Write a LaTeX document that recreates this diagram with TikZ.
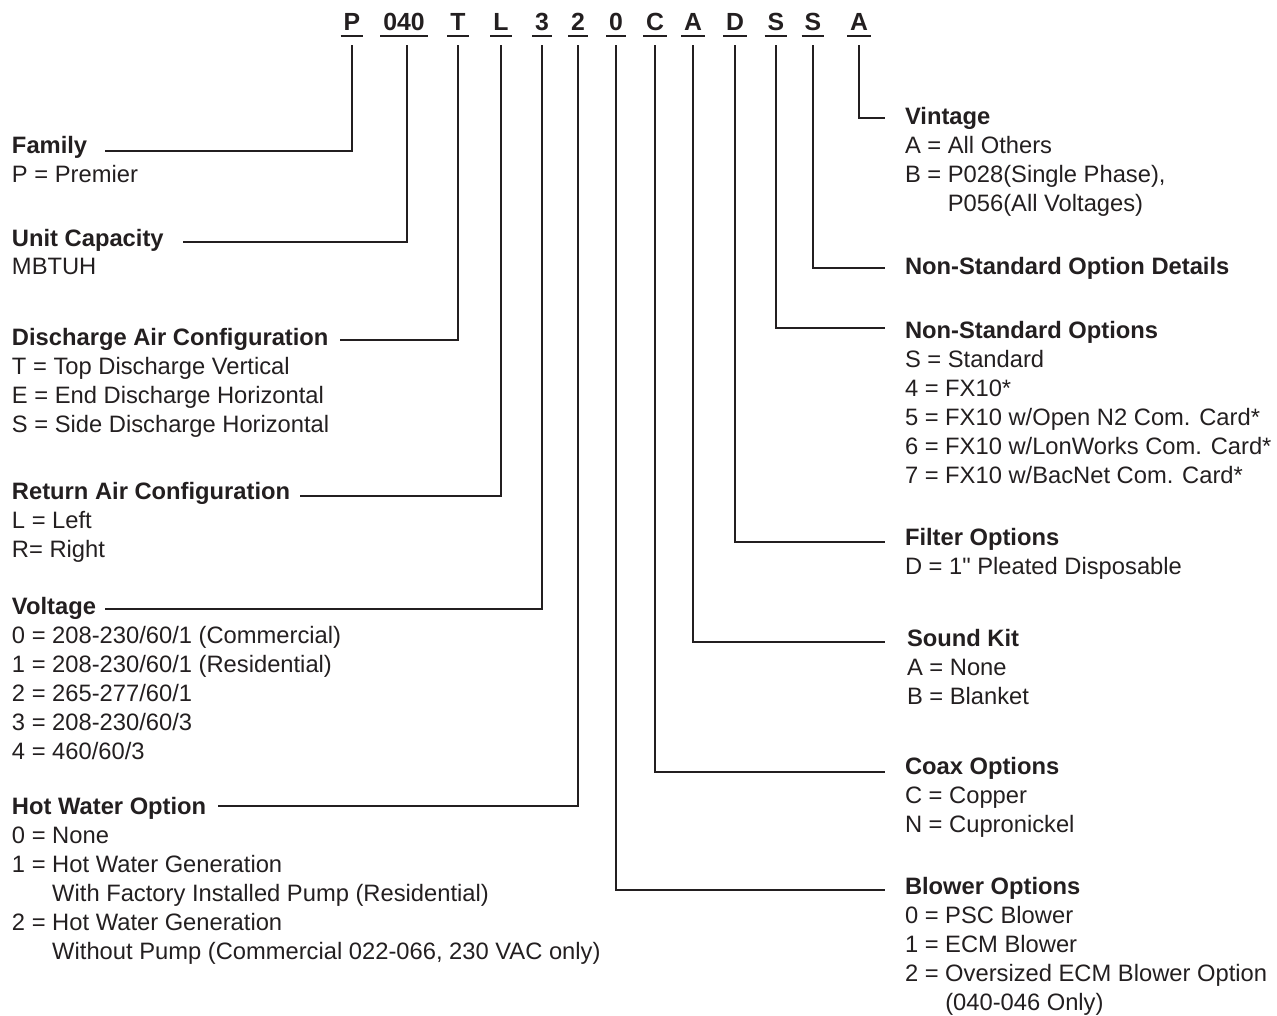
\documentclass[tikz,border=0pt]{standalone}
\usepackage{fontspec}
\setmainfont{Liberation Sans}[Ligatures=TeXOff]
\usetikzlibrary{calc}
\definecolor{ink}{HTML}{231F20}
\newcommand{\lines}[1]{\begin{tabular}[t]{@{}l@{}}#1\end{tabular}}
\begin{document}
\begin{tikzpicture}[x=0.75pt,y=-0.75pt,
  every node/.style={text=ink, inner sep=0pt, outer sep=0pt},
  code/.style={font=\fontsize{18.6}{21}\selectfont\bfseries, anchor=base},
  hdr/.style={font=\fontsize{17.8}{21}\selectfont\bfseries, anchor=base west},
  items/.style={font=\fontsize{17.8}{21.7}\selectfont, anchor=base west},
  conn/.style={draw=ink, line width=0.9pt},
  uline/.style={draw=ink, line width=1.1pt}]
\useasboundingbox (0,0) rectangle (1277,1015);

% ---- model code ----
\node[code] (k1)  at (352,30) {P};
\node[code] (k2)  at (404,30) {040};
\node[code] (k3)  at (458,30) {T};
\node[code] (k4)  at (501,30) {L};
\node[code] (k5)  at (542,30) {3};
\node[code] (k6)  at (578,30) {2};
\node[code] (k7)  at (616,30) {0};
\node[code] (k8)  at (655,30) {C};
\node[code] (k9)  at (693,30) {A};
\node[code] (k10) at (735,30) {D};
\node[code] (k11) at (776,30) {S};
\node[code] (k12) at (813,30) {S};
\node[code] (k13) at (859,30) {A};
\foreach \k in {k1,k2,k3,k4,k5,k6,k7,k8,k9,k10,k11,k12,k13}
  \draw[uline] ($(\k.base west)+(-3,6)$) -- ($(\k.base east)+(3,6)$);

% ---- left column ----
\node[hdr] (hFam) at (12,153) {Family};
\node[items] (iFam) at (12,182) {P = Premier};
\node[hdr] (hCap) at (12,246) {Unit Capacity};
\node[items] (iCap) at (12,274.5) {MBTUH};
\node[hdr] (hDis) at (12,345.5) {Discharge Air Configuration};
\node[items] (iDis) at (12,374.5) {\lines{T = Top Discharge Vertical\\E = End Discharge Horizontal\\S = Side Discharge Horizontal}};
\node[hdr] (hRet) at (12,499.5) {Return Air Configuration};
\node[items] (iRet) at (12,528.5) {\lines{L = Left\\R= Right}};
\node[hdr] (hVol) at (12,614.5) {Voltage};
\node[items] (iVol) at (12,643.5) {\lines{0 = 208-230/60/1 (Commercial)\\1 = 208-230/60/1 (Residential)\\2 = 265-277/60/1\\3 = 208-230/60/3\\4 = 460/60/3}};
\node[hdr] (hHot) at (12,814.5) {Hot Water Option};
\node[items] (iHot) at (12,843.5) {\lines{0 = None\\1 = Hot Water Generation\\\phantom{1 = }With Factory Installed Pump (Residential)\\2 = Hot Water Generation\\\phantom{2 = }Without Pump (Commercial 022-066, 230 VAC only)}};

% ---- right column ----
\node[hdr] (hVin) at (905,124.5) {Vintage};
\node[items] (iVin) at (905,153.5) {\lines{A = All Others\\B = P028(Single Phase),\\\phantom{B = }P056(All Voltages)}};
\node[hdr] (hDet) at (905,274.5) {Non-Standard Option Details};
\node[hdr] (hNso) at (905,338.5) {Non-Standard Options};
\node[items] (iNso) at (905,367.5) {\lines{S = Standard\\4 = FX10*\\5 = FX10 w/Open N2 Com. Card*\\6 = FX10 w/LonWorks Com. Card*\\7 = FX10 w/BacNet Com. Card*}};
\node[hdr] (hFil) at (905,545.5) {Filter Options};
\node[items] (iFil) at (905,574.5) {D = 1" Pleated Disposable};
\node[hdr] (hSnd) at (907,646.5) {Sound Kit};
\node[items] (iSnd) at (907,675.5) {\lines{A = None\\B = Blanket}};
\node[hdr] (hCoax) at (905,774.5) {Coax Options};
\node[items] (iCoax) at (905,803.5) {\lines{C = Copper\\N = Cupronickel}};
\node[hdr] (hBlo) at (905,894.5) {Blower Options};
\node[items] (iBlo) at (905,923.5) {\lines{0 = PSC Blower\\1 = ECM Blower\\2 = Oversized ECM Blower Option\\\phantom{2 = }(040-046 Only)}};

% ---- connector ends ----
\coordinate (eFam) at (105,151);
\coordinate (eCap) at (183,242);
\coordinate (eDis) at (340,340);
\coordinate (eRet) at (300,496);
\coordinate (eVol) at (105,609);
\coordinate (eHot) at (218,806);
\coordinate (eVin) at (885,118);
\coordinate (eDet) at (885,268);
\coordinate (eNso) at (885,328);
\coordinate (eFil) at (885,542);
\coordinate (eSnd) at (885,642);
\coordinate (eCoax) at (885,772);
\coordinate (eBlo) at (885,890);

\draw[conn] ([yshift=-11.6pt]k1.base)  |- (eFam);
\draw[conn] ([xshift=2.25pt,yshift=-11.6pt]k2.base)  |- (eCap);
\draw[conn] ([yshift=-11.6pt]k3.base)  |- (eDis);
\draw[conn] ([yshift=-11.6pt]k4.base)  |- (eRet);
\draw[conn] ([yshift=-11.6pt]k5.base)  |- (eVol);
\draw[conn] ([yshift=-11.6pt]k6.base)  |- (eHot);
\draw[conn] ([yshift=-11.6pt]k7.base)  |- (eBlo);
\draw[conn] ([yshift=-11.6pt]k8.base)  |- (eCoax);
\draw[conn] ([yshift=-11.6pt]k9.base)  |- (eSnd);
\draw[conn] ([yshift=-11.6pt]k10.base) |- (eFil);
\draw[conn] ([yshift=-11.6pt]k11.base) |- (eNso);
\draw[conn] ([yshift=-11.6pt]k12.base) |- (eDet);
\draw[conn] ([yshift=-11.6pt]k13.base) |- (eVin);
\end{tikzpicture}
\end{document}
